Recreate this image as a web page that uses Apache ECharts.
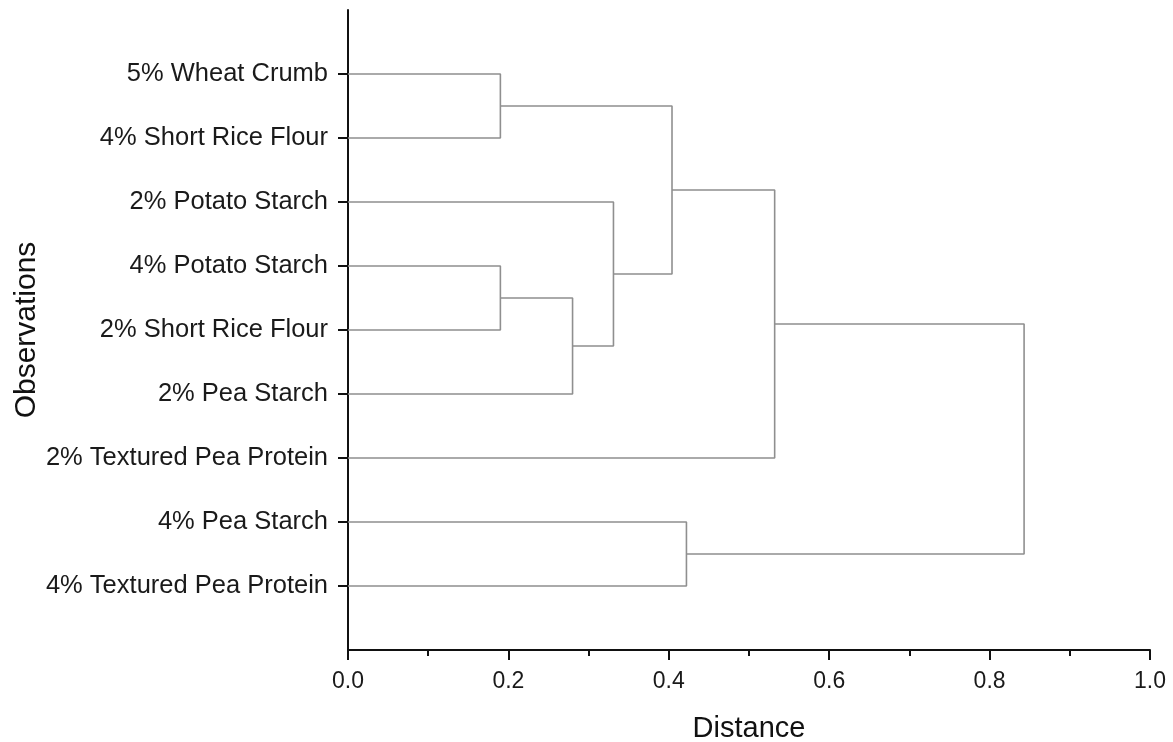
<!DOCTYPE html>
<html>
<head>
<meta charset="utf-8">
<script src="https://cdn.jsdelivr.net/npm/echarts@6/dist/echarts.min.js"></script>
<style>
html,body{margin:0;padding:0;background:#fff;}
#chart{width:1173px;height:742px;}
</style>
</head>
<body>
<div id="chart"></div>
<script>
// Leaves, listed from top to bottom
var categories = [
  "5% Wheat Crumb",
  "4% Short Rice Flour",
  "2% Potato Starch",
  "4% Potato Starch",
  "2% Short Rice Flour",
  "2% Pea Starch",
  "2% Textured Pea Protein",
  "4% Pea Starch",
  "4% Textured Pea Protein"
];
// Merges: node ids 0..8 are leaves, 9.. are merges in this order
var mergeA = [0, 3, 10, 2, 9, 13, 7, 14];
var mergeB = [1, 4, 5, 11, 12, 6, 8, 15];
var mergeDist = [0.190, 0.190, 0.280, 0.331, 0.404, 0.532, 0.422, 0.843];
var xTicks = [0, 0.2, 0.4, 0.6, 0.8, 1.0];

var n = categories.length;
var nodeY = [], nodeH = [];
for (var i = 0; i < n; i++) { nodeY.push(n - i); nodeH.push(0); }
var series = [];
for (var m = 0; m < mergeA.length; m++) {
  var a = mergeA[m], b = mergeB[m], d = mergeDist[m];
  series.push({
    type: 'line',
    silent: true,
    symbol: 'none',
    animation: false,
    lineStyle: { color: '#8f8f8f', width: 1.6 },
    data: [[nodeH[a], nodeY[a]], [d, nodeY[a]], [d, nodeY[b]], [nodeH[b], nodeY[b]]]
  });
  nodeY.push((nodeY[a] + nodeY[b]) / 2);
  nodeH.push(d);
}
var yTickVals = [];
for (var k = 1; k <= n; k++) yTickVals.push(k);

var font = 'Liberation Sans, Arial, sans-serif';
var chart = echarts.init(document.getElementById('chart'));
chart.setOption({
  backgroundColor: '#fff',
  animation: false,
  grid: { left: 348, right: 23, top: 10, bottom: 92, containLabel: false, outerBoundsMode: 'none' },
  xAxis: {
    type: 'value', min: 0, max: 1, interval: 0.2,
    name: 'Distance', nameLocation: 'middle', nameGap: 64, nameMoveOverlap: false,
    nameTextStyle: { fontSize: 29, color: '#111', fontFamily: font },
    axisLine: { show: true, lineStyle: { color: '#111', width: 2 } },
    axisTick: { show: true, length: 10, lineStyle: { color: '#111', width: 2 }, customValues: xTicks },
    minorTick: { show: true, splitNumber: 2, length: 6, lineStyle: { color: '#111', width: 2 } },
    axisLabel: { fontSize: 23, color: '#1a1a1a', margin: 20, fontFamily: font,
      customValues: xTicks,
      formatter: function (v) { return v.toFixed(1); } },
    splitLine: { show: false }
  },
  yAxis: {
    type: 'value', min: 0, max: 10, interval: 1,
    name: 'Observations', nameLocation: 'middle', nameGap: 306, nameRotate: 90, nameMoveOverlap: false,
    nameTextStyle: { fontSize: 30, color: '#111', fontFamily: font },
    axisLine: { show: true, lineStyle: { color: '#111', width: 2 } },
    axisTick: { show: true, length: 10, lineStyle: { color: '#111', width: 2 }, customValues: yTickVals },
    axisLabel: { fontSize: 25.5, color: '#1a1a1a', margin: 20, fontFamily: font,
      customValues: yTickVals,
      formatter: function (v) { var idx = n - Math.round(v); return categories[idx] || ''; } },
    splitLine: { show: false }
  },
  series: series
});
</script>
</body>
</html>
